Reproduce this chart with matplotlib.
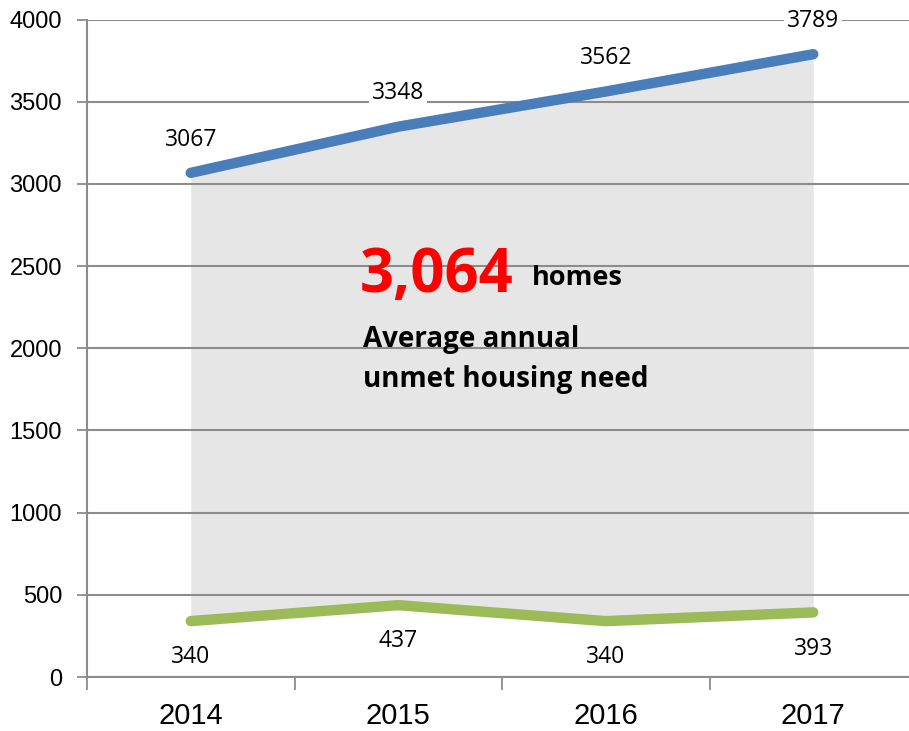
import numpy as np
import matplotlib
matplotlib.use("Agg")
import matplotlib.pyplot as plt

# === data ===
years = ["2014", "2015", "2016", "2017"]
need_total = [3067, 3348, 3562, 3789]
delivered = [340, 437, 340, 393]
y_ticks = [0, 500, 1000, 1500, 2000, 2500, 3000, 3500, 4000]

BLUE = "#4a7ebb"
GREEN = "#9bbb59"
FILL = "#e6e6e6"
GRID = "#8c8c8c"

plt.rcParams["font.family"] = ["Liberation Sans", "DejaVu Sans"]


def main():
    fig = plt.figure(figsize=(9.09, 7.31), dpi=100)
    ax = fig.add_axes([87 / 909, 1 - 677 / 731, 830 / 909, 657.5 / 731])

    x = np.arange(len(years))
    ax.fill_between(x, delivered, need_total, color=FILL, lw=0, zorder=0.2)
    ax.plot(x, need_total, color=BLUE, lw=7.5, solid_capstyle="round", zorder=3)
    ax.plot(x, delivered, color=GREEN, lw=7.5, solid_capstyle="round", zorder=3)

    box = dict(facecolor="white", edgecolor="none", pad=2)
    for xi, v in zip(x, need_total):
        ax.annotate(str(v), (xi, v), xytext=(0, 24), textcoords="offset points",
                    ha="center", va="center", fontsize=16.5, family="Open Sans",
                    bbox=box, zorder=4)
    for xi, v in zip(x, delivered):
        ax.annotate(str(v), (xi, v), xytext=(0, -26), textcoords="offset points",
                    ha="center", va="center", fontsize=16.5, family="Open Sans",
                    bbox=box, zorder=4)

    # overlay text
    ax.text(0.815, 2342, "3,064", color="#ff0000", fontsize=43, fontweight="bold",
            family="Open Sans", va="baseline", zorder=5)
    ax.text(1.644, 2385, "homes", color="black", fontsize=19.5, fontweight="bold",
            family="Open Sans", va="baseline", zorder=5)
    ax.text(0.829, 2008, "Average annual", color="black", fontsize=20, fontweight="bold",
            family="Open Sans", va="baseline", zorder=5)
    ax.text(0.829, 1764, "unmet housing need", color="black", fontsize=20, fontweight="bold",
            family="Open Sans", va="baseline", zorder=5)

    ax.set_xlim(-0.5, len(years) - 0.5)
    ax.set_ylim(0, 4000)
    ax.set_yticks(y_ticks)
    ax.set_yticklabels([str(t) for t in y_ticks])
    ax.set_xticks(x)
    ax.set_xticklabels(years)
    ax.set_xticks(np.arange(len(years) + 1) - 0.5, minor=True)

    ax.set_axisbelow(True)
    ax.yaxis.grid(True, color=GRID, lw=1.5)
    ax.xaxis.grid(False)

    ax.tick_params(axis="y", length=7, width=1.3, color=GRID, labelsize=17, pad=11)
    ax.tick_params(axis="x", which="major", length=0, labelsize=21, pad=18)
    ax.tick_params(axis="x", which="minor", length=9, width=1.3, color=GRID)

    for side in ("top", "right"):
        ax.spines[side].set_visible(False)
    for side in ("left", "bottom"):
        ax.spines[side].set_color(GRID)
        ax.spines[side].set_linewidth(1.5)

    fig.savefig("out.png", dpi=100)


if __name__ == "__main__":
    main()
